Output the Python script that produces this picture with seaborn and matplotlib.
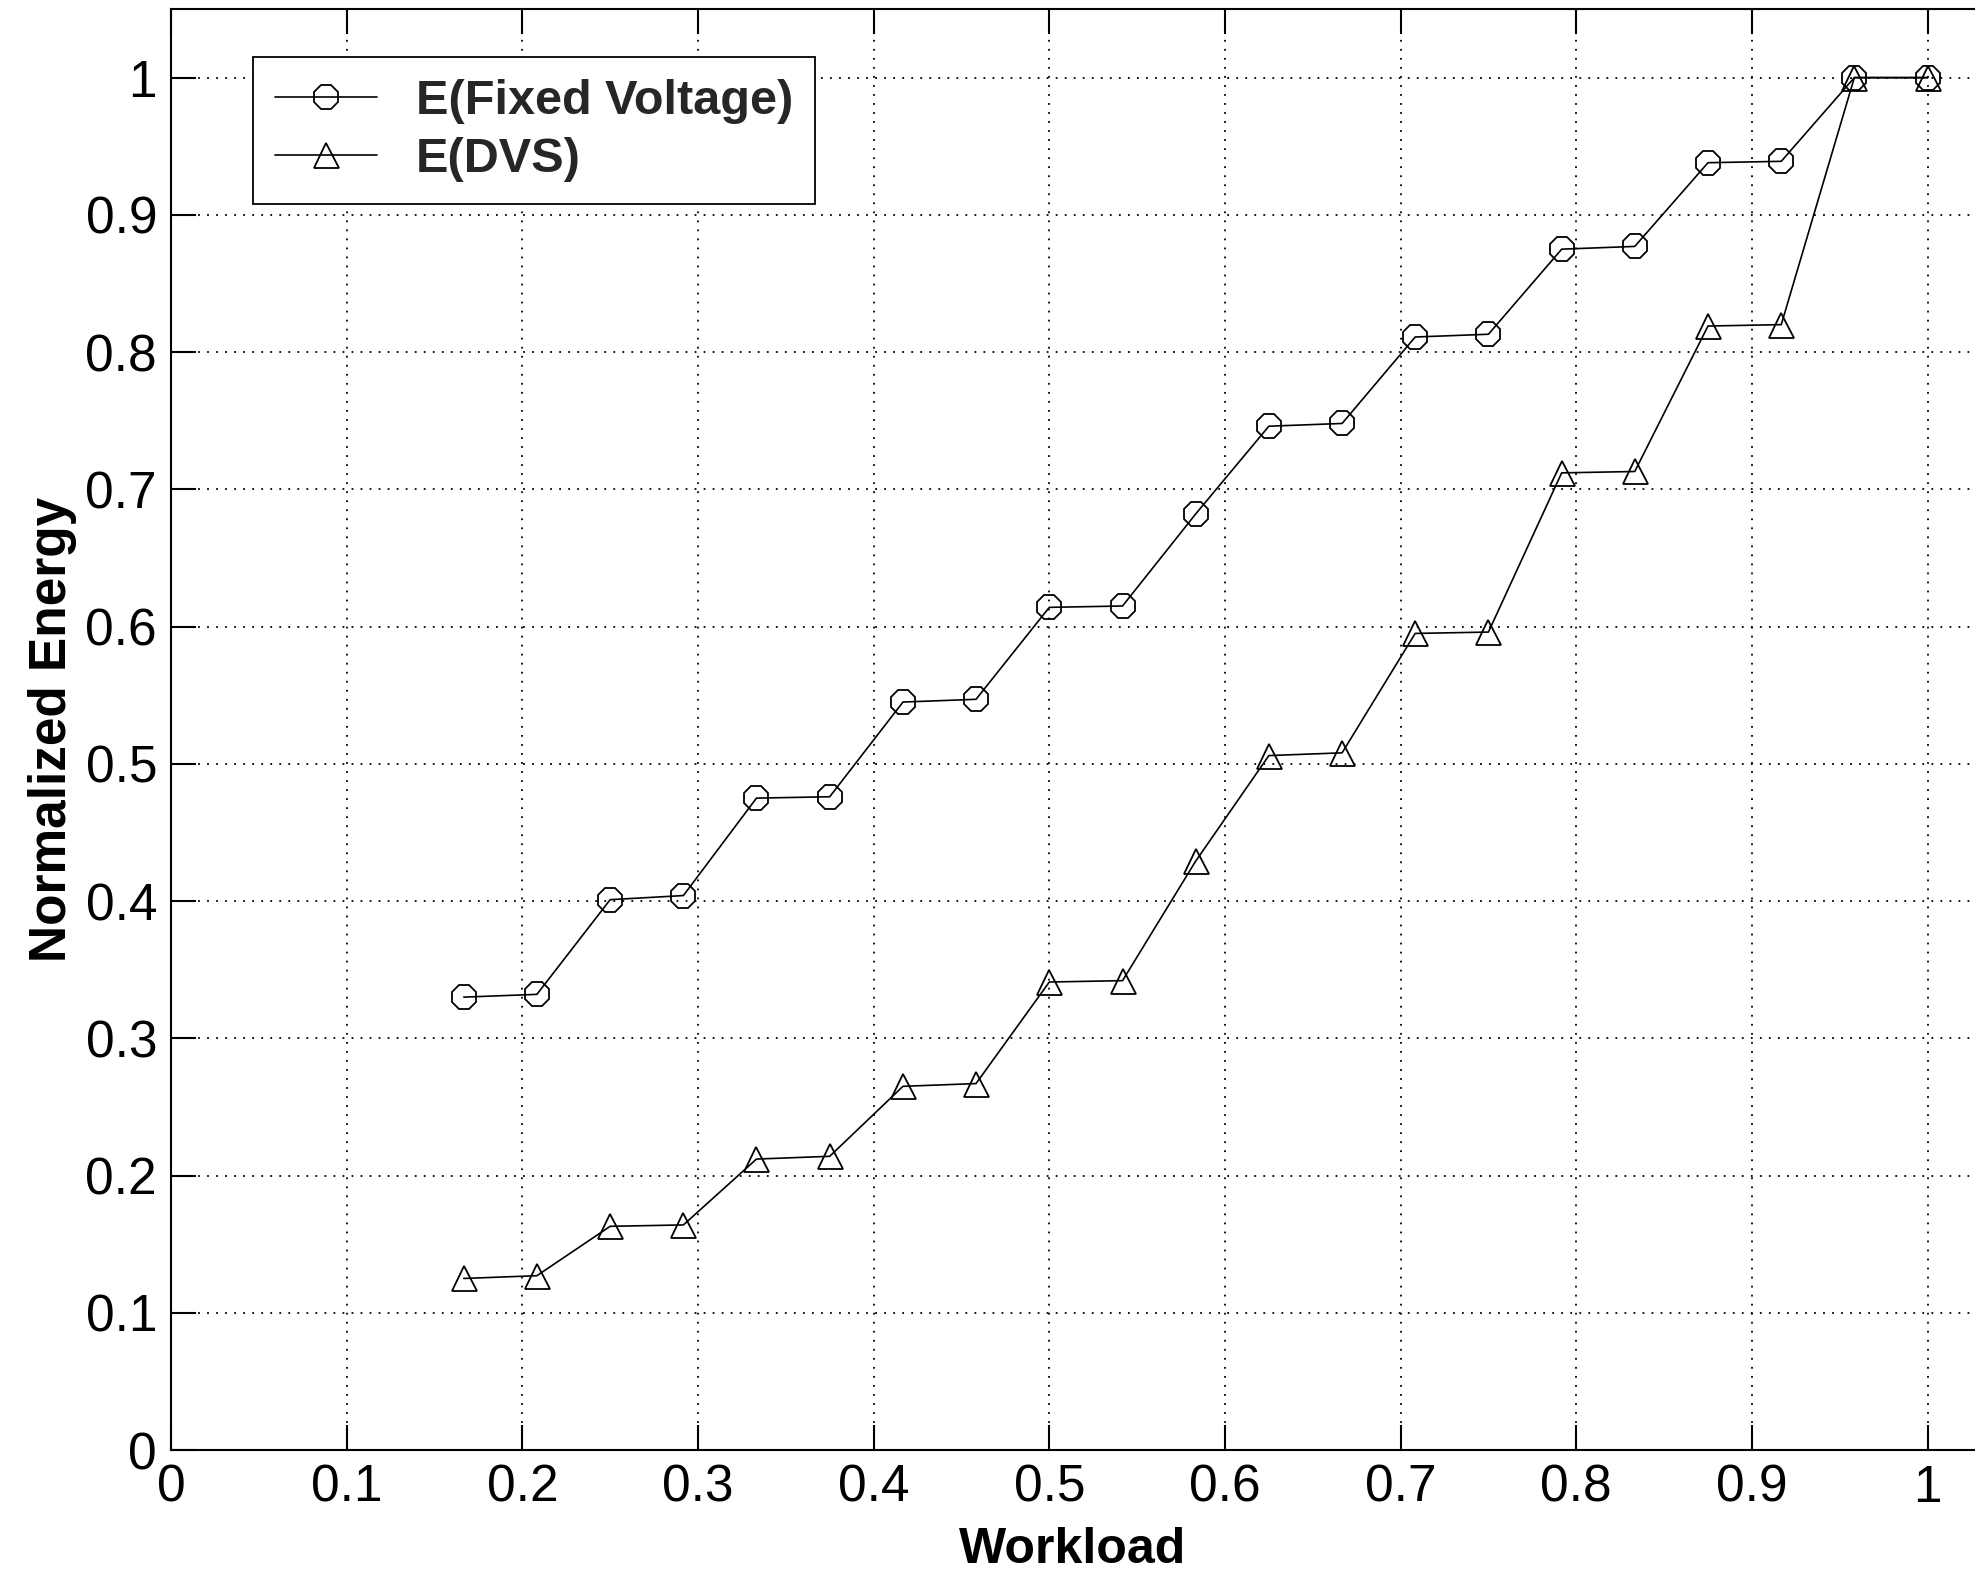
import matplotlib
matplotlib.use("Agg")
import matplotlib.pyplot as plt
import seaborn as sns
import pandas as pd

# Workload levels (fraction of full load)
workload = [0.1667, 0.2083, 0.25, 0.2917, 0.3333, 0.375, 0.4167, 0.4583,
            0.5, 0.5417, 0.5833, 0.625, 0.6667, 0.7083, 0.75, 0.7917,
            0.8333, 0.875, 0.9167, 0.9583, 1.0]

# Normalized energy with a fixed supply voltage
energy_fixed = [0.330, 0.332, 0.401, 0.404, 0.475, 0.476, 0.545, 0.547,
                0.614, 0.615, 0.682, 0.746, 0.748, 0.811, 0.813, 0.875,
                0.877, 0.938, 0.939, 1.0, 1.0]

# Normalized energy with dynamic voltage scaling
energy_dvs = [0.125, 0.127, 0.163, 0.164, 0.212, 0.214, 0.265, 0.267,
              0.341, 0.342, 0.429, 0.506, 0.508, 0.595, 0.596, 0.712,
              0.713, 0.819, 0.820, 1.0, 1.0]

labels = ["E(Fixed Voltage)", "E(DVS)"]
x_ticks = [0, 0.1, 0.2, 0.3, 0.4, 0.5, 0.6, 0.7, 0.8, 0.9, 1]
y_ticks = [0, 0.1, 0.2, 0.3, 0.4, 0.5, 0.6, 0.7, 0.8, 0.9, 1]
tick_labels = ["0", "0.1", "0.2", "0.3", "0.4", "0.5", "0.6", "0.7", "0.8", "0.9", "1"]

sns.set_theme(style="white")
plt.rcParams["font.family"] = ["Liberation Sans", "DejaVu Sans"]

W, H = 1975, 1578
fig = plt.figure(figsize=(W / 100, H / 100), dpi=100)
left, bottom, top = 171 / W, (H - 1450) / H, (H - 9) / H
ax = fig.add_axes([left, bottom, 1.0 - left, top - bottom])

df_fixed = pd.DataFrame({"x": workload, "y": energy_fixed})
df_dvs = pd.DataFrame({"x": workload, "y": energy_dvs})

common = dict(color="black", linewidth=1.2, markersize=18,
              fillstyle="none", markeredgewidth=1.3,
              markeredgecolor="black", ax=ax)
sns.lineplot(data=df_fixed, x="x", y="y", marker="8", label=labels[0], **common)
sns.lineplot(data=df_dvs, x="x", y="y", marker="^", label=labels[1], **common)

ax.set_xlim(0, 1.027)
ax.set_ylim(0, 1.05)
ax.set_xticks(x_ticks)
ax.set_xticklabels(tick_labels)
ax.set_yticks(y_ticks)
ax.set_yticklabels(tick_labels)

ax.grid(True, color="black", linestyle=(0, (1, 4)), linewidth=1.3)
for side in ["left", "bottom", "top"]:
    ax.spines[side].set_visible(True)
    ax.spines[side].set_color("black")
    ax.spines[side].set_linewidth(1.5)
ax.spines["right"].set_visible(False)

ax.tick_params(axis="both", direction="in", length=18, width=1.5,
               colors="black", labelsize=37, pad=10,
               top=True, bottom=True, left=True, right=False)
for lbl in ax.get_xticklabels() + ax.get_yticklabels():
    lbl.set_color("black")

ax.set_xlabel("Workload", fontsize=36, fontweight="bold", color="black", labelpad=10)
ax.set_ylabel("Normalized Energy", fontsize=37, fontweight="bold", color="black", labelpad=6)

leg = ax.legend(loc="upper left", bbox_to_anchor=((253 - 171) / (W - 171), (1450 - 57) / (1450 - 9)),
                prop={"size": 35, "weight": "bold"}, frameon=True, fancybox=False,
                framealpha=1, edgecolor="black", borderpad=0.45, handlelength=2.1,
                handletextpad=0.8, labelspacing=0.28, borderaxespad=0)
leg.get_frame().set_linewidth(1.3)

fig.savefig("out.png", dpi=100)
